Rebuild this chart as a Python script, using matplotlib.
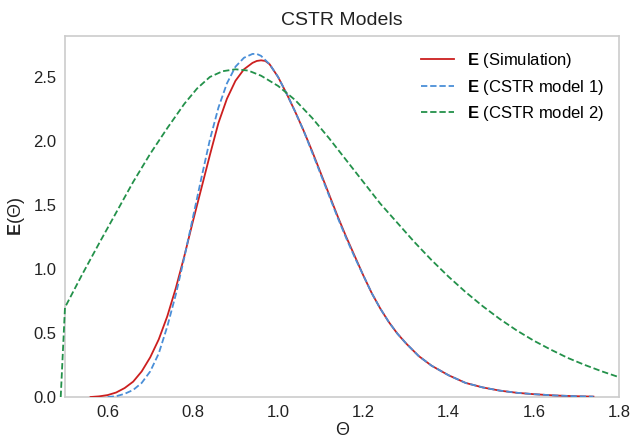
import matplotlib
matplotlib.use('Agg')
import matplotlib.pyplot as plt


# values
theta_sim = [0.56, 0.58, 0.60, 0.62, 0.64, 0.66, 0.68, 0.70, 0.72, 0.74, 0.76,
             0.78, 0.80, 0.82, 0.84, 0.86, 0.88, 0.90, 0.92, 0.94, 0.95, 0.96,
             0.97, 0.98, 1.00, 1.02, 1.04, 1.06, 1.08, 1.10, 1.12, 1.14, 1.16,
             1.18, 1.20, 1.22, 1.24, 1.26, 1.28, 1.30, 1.33, 1.36, 1.40, 1.44,
             1.48, 1.52, 1.56, 1.60, 1.65, 1.70, 1.74]
e_sim = [0.0, 0.005, 0.015, 0.035, 0.07, 0.12, 0.20, 0.31, 0.45, 0.63, 0.85,
         1.10, 1.37, 1.63, 1.89, 2.14, 2.33, 2.47, 2.56, 2.61, 2.625, 2.63,
         2.625, 2.60, 2.50, 2.37, 2.23, 2.08, 1.92, 1.75, 1.58, 1.41, 1.25,
         1.10, 0.95, 0.81, 0.69, 0.585, 0.495, 0.42, 0.32, 0.245, 0.17, 0.11,
         0.075, 0.05, 0.033, 0.022, 0.012, 0.006, 0.003]

theta_m1 = [0.60, 0.62, 0.64, 0.66, 0.68, 0.70, 0.72, 0.74, 0.76, 0.78, 0.80,
            0.82, 0.84, 0.86, 0.88, 0.90, 0.92, 0.94, 0.95, 0.96, 0.98, 1.00,
            1.02, 1.04, 1.06, 1.08, 1.10, 1.12, 1.14, 1.16, 1.18, 1.20, 1.22,
            1.24, 1.26, 1.28, 1.30, 1.33, 1.36, 1.40, 1.44, 1.48, 1.52, 1.56,
            1.60, 1.65, 1.70, 1.74]
e_m1 = [0.0, 0.006, 0.025, 0.055, 0.11, 0.20, 0.34, 0.55, 0.80, 1.09, 1.40,
        1.71, 2.01, 2.26, 2.45, 2.58, 2.65, 2.68, 2.68, 2.665, 2.60, 2.50,
        2.37, 2.23, 2.08, 1.91, 1.74, 1.57, 1.40, 1.24, 1.09, 0.95, 0.81,
        0.69, 0.585, 0.495, 0.42, 0.32, 0.245, 0.17, 0.11, 0.075, 0.05, 0.033,
        0.022, 0.012, 0.006, 0.003]

theta_m2 = [0.49, 0.50, 0.54, 0.58, 0.62, 0.66, 0.70, 0.74, 0.78, 0.81, 0.84,
            0.87, 0.90, 0.93, 0.96, 1.00, 1.04, 1.08, 1.12, 1.16, 1.20, 1.24,
            1.28, 1.32, 1.36, 1.40, 1.44, 1.48, 1.52, 1.56, 1.60, 1.64, 1.68,
            1.72, 1.76, 1.80]
e_m2 = [0.0, 0.70, 0.955, 1.20, 1.44, 1.68, 1.90, 2.10, 2.29, 2.41, 2.50,
        2.545, 2.56, 2.55, 2.51, 2.43, 2.32, 2.18, 2.02, 1.85, 1.68, 1.51,
        1.36, 1.21, 1.07, 0.94, 0.82, 0.71, 0.61, 0.52, 0.44, 0.37, 0.305,
        0.25, 0.20, 0.155]

labels = [r'$\mathbf{E}$ (Simulation)', r'$\mathbf{E}$ (CSTR model 1)',
          r'$\mathbf{E}$ (CSTR model 2)']

plt.rcParams['font.family'] = ['Liberation Sans', 'DejaVu Sans']
plt.rcParams['mathtext.fontset'] = 'custom'
plt.rcParams['mathtext.rm'] = 'Liberation Sans'
plt.rcParams['mathtext.bf'] = 'Liberation Sans:bold'

fig = plt.figure(figsize=(6.39, 4.38), dpi=100)
ax = fig.add_axes([0.1017, 0.0936, 0.8670, 0.8242])

ax.plot(theta_sim, e_sim, color='#cc1f1f', lw=1.3, label=labels[0], zorder=3)
ax.plot(theta_m1, e_m1, color='#4a8fd8', lw=1.3, ls='--', dashes=(3.5, 1.6),
        label=labels[1], zorder=3)
ax.plot(theta_m2, e_m2, color='#23914a', lw=1.3, ls='--', dashes=(3.5, 1.6),
        label=labels[2], zorder=3, clip_on=False)

ax.set_xlim(0.5, 1.8)
ax.set_ylim(0, 2.82)
ax.set_xticks([0.6, 0.8, 1.0, 1.2, 1.4, 1.6, 1.8])
ax.set_yticks([0.0, 0.5, 1.0, 1.5, 2.0, 2.5])
ax.tick_params(length=0, labelsize=12, labelcolor='#222222', pad=6)
for s in ax.spines.values():
    s.set_color('#cccccc')
    s.set_linewidth(1.2)

ax.set_title('CSTR Models', fontsize=14, color='#222222', pad=8)
ax.set_xlabel('Θ', fontsize=13, color='#222222', labelpad=1)
ax.set_ylabel(r'$\mathbf{E}$(Θ)', fontsize=13, color='#222222', labelpad=5)

ax.legend(loc='upper right', frameon=False, fontsize=12, handlelength=2.0,
          handletextpad=0.8, borderaxespad=0.5, labelspacing=0.45)

fig.savefig('out.png', dpi=100, facecolor='white')
